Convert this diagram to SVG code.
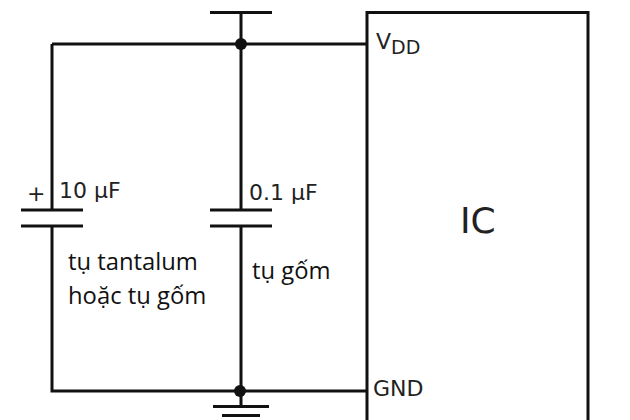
<svg xmlns="http://www.w3.org/2000/svg" width="630" height="420" viewBox="0 0 630 420">
<style>
.w{fill:none;stroke:#111;stroke-width:3}
.l{font-family:"DejaVu Sans",sans-serif;fill:#222;font-size:22px}
.c{font-family:"Open Sans","Noto Sans",sans-serif;fill:#111;font-size:23.800px}
</style>
<rect width="630" height="420" fill="#fff"/>
<g id="connectors">
<path class="w" d="M241 13V210M241 226V391M52 44H367M52 44V210M52 226V391H367M241 391V406"/>
<circle cx="241" cy="44" r="6" fill="#111"/>
<circle cx="240" cy="391" r="6" fill="#111"/>
</g>
<g id="vdd-rail"><path class="w" d="M210 12.500H272"/></g>
<g id="ground"><path class="w" d="M213 406.500H269M222 415.500H260"/></g>
<g id="ic">
<path class="w" d="M367 420V12.500H588V420"/>
<text x="460" y="233" font-family="'DejaVu Sans',sans-serif" font-size="36" fill="#222">IC</text>
<text class="l" x="376" y="49">V<tspan font-size="19" dy="5">DD</tspan></text>
<text class="l" x="373" y="396">GND</text>
</g>
<g id="c1">
<path class="w" d="M21 210H83M21 226H83"/>
<text class="l" x="27" y="201">+</text>
<text class="l" x="59" y="198">10 µF</text>
<text class="c" x="68" y="270">tụ tantalum</text>
<text class="c" x="68" y="304">hoặc tụ gốm</text>
</g>
<g id="c2">
<path class="w" d="M210 210H272M210 226H272"/>
<text class="l" x="249" y="200">0.1 µF</text>
<text class="c" x="252" y="279">tụ gốm</text>
</g>
</svg>
